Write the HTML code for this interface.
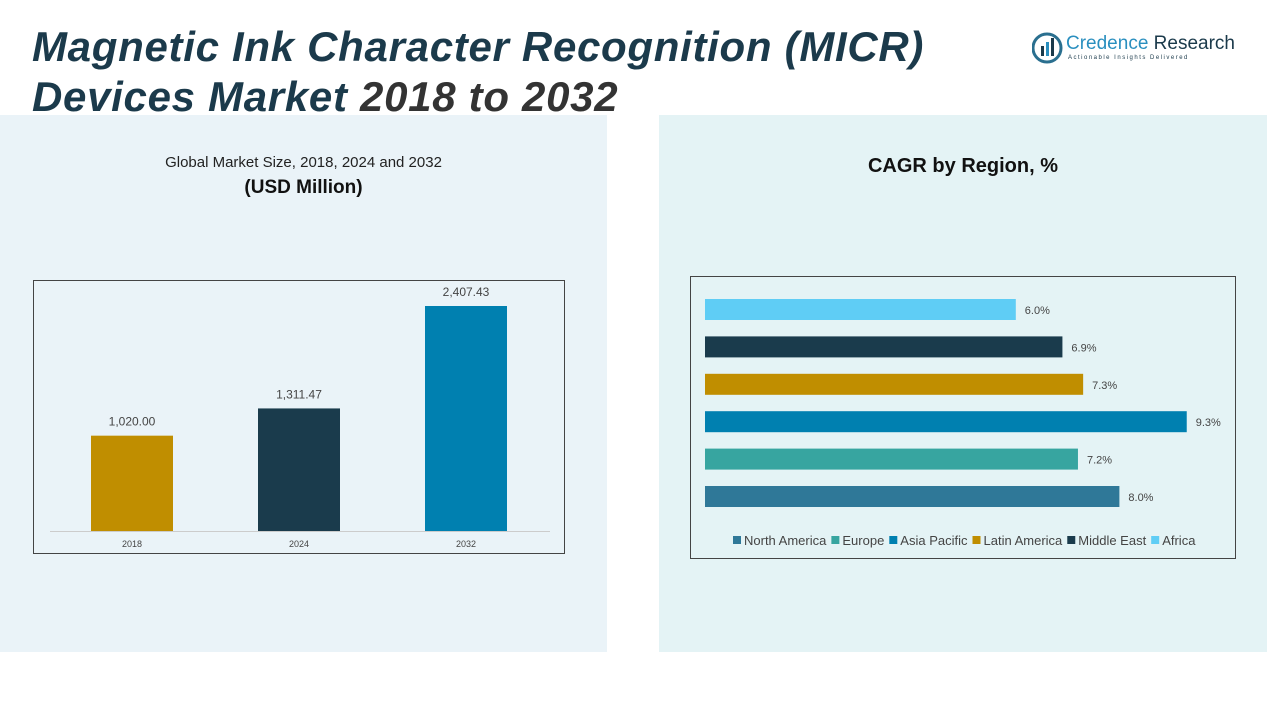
<!DOCTYPE html>
<html><head><meta charset="utf-8"><style>
body{margin:0;width:1267px;height:713px;background:#fff;font-family:"Liberation Sans",sans-serif;position:relative;overflow:hidden}
.abs{position:absolute}
</style></head><body>
<div class="abs" style="left:0;top:115px;width:607px;height:537px;background:#eaf3f8"></div>
<div class="abs" style="left:659px;top:115px;width:608px;height:537px;background:#e4f3f5"></div>
<div class="abs" style="left:32px;top:22px;font-size:42px;font-weight:bold;font-style:italic;color:#1b3a4b;line-height:50px;letter-spacing:0.7px">Magnetic Ink Character Recognition (MICR)<br>Devices Market <span style="color:#333">2018 to 2032</span></div>
<div class="abs" style="left:1032px;top:32px;width:210px;height:34px">
<svg width="32" height="32" style="position:absolute;left:0;top:0"><circle cx="15" cy="16" r="14" fill="none" stroke="#2a6f8f" stroke-width="3"/><rect x="9" y="14" width="3" height="10" fill="#1b3a4b"/><rect x="14" y="10" width="3" height="14" fill="#2a8fbf"/><rect x="19" y="6" width="3" height="18" fill="#1b3a4b"/></svg>
<div class="abs" style="left:34px;top:1px;font-size:19px;color:#2a8fbf;white-space:nowrap">Credence <span style="color:#1b3a4b">Research</span></div>
<div class="abs" style="left:36px;top:23px;font-size:6px;color:#1b3a4b;letter-spacing:1.5px;white-space:nowrap">Actionable Insights Delivered</div>
</div>
<div class="abs" style="left:0;width:607px;top:154px;text-align:center;font-size:15px;color:#222">Global Market Size, 2018, 2024 and 2032</div>
<div class="abs" style="left:0;width:607px;top:177px;text-align:center;font-size:19px;font-weight:bold;color:#111">(USD Million)</div>
<div class="abs" style="left:659px;width:608px;top:155px;text-align:center;font-size:20px;font-weight:bold;color:#111">CAGR by Region, %</div>
<svg class="abs" style="left:0;top:0" width="1267" height="713" id="svg"></svg>
<script>
const years=["2018","2024","2032"];
const sizes=[1020.00,1311.47,2407.43];
const sizeLabels=["1,020.00","1,311.47","2,407.43"];
const sizeColors=["#c08e00","#1a3b4c","#0080b0"];
const regions=["Africa","Middle East","Latin America","Asia Pacific","Europe","North America"];
const cagr=[6.0,6.9,7.3,9.3,7.2,8.0];
const regionColors=["#5fcdf5","#1a3b4c","#c08e00","#0080b0","#37a5a0","#2f7898"];
const legendOrder=["North America","Europe","Asia Pacific","Latin America","Middle East","Africa"];
const legendColors=["#2f7898","#37a5a0","#0080b0","#c08e00","#1a3b4c","#5fcdf5"];
const svg=document.getElementById('svg');const NS="http://www.w3.org/2000/svg";
function mk(t,a,p){const e=document.createElementNS(NS,t);for(const k in a)e.setAttribute(k,a[k]);(p||svg).appendChild(e);return e;}
let f=mk('rect',{x:33.5,y:280.5,width:531,height:273,fill:'none',stroke:'#444'});


let bl=mk('line',{x1:50,x2:550,y1:531.5,y2:531.5,stroke:'#ccc'});


const yS=v=>531-v*225/2407.43;const xC=i=>132+i*167;
years.forEach((y,i)=>{
 const r=mk('rect',{x:xC(i)-41,y:yS(sizes[i]),width:82,height:531-yS(sizes[i]),fill:sizeColors[i]});
 
 
 const t=mk('text',{x:xC(i),y:yS(sizes[i])-10,'text-anchor':'middle','font-size':12,fill:'#444'});t.textContent=sizeLabels[i];
 
 
 const x=mk('text',{x:xC(i),y:547,'text-anchor':'middle','font-size':9,fill:'#444'});x.textContent=y;
 
 
});
let f2=mk('rect',{x:690.5,y:276.5,width:545,height:282,fill:'none',stroke:'#444'});


const xR=v=>705+v*51.8;const yR=i=>299+i*37.4;
regions.forEach((r,i)=>{
 const b=mk('rect',{x:705,y:yR(i),width:xR(cagr[i])-705,height:21,fill:regionColors[i]});
 
 
 const t=mk('text',{x:xR(cagr[i])+9,y:yR(i)+15,'font-size':11,fill:'#444'});t.textContent=cagr[i].toFixed(1)+'%';
 
 
});
let lx=733;
legendOrder.forEach((n,i)=>{
 const s=mk('rect',{x:lx,y:536,width:8,height:8,fill:legendColors[i]});
 
 
 const t=mk('text',{x:lx+11,y:545,'font-size':13,fill:'#444'});t.textContent=n;
 
 
 lx+=11+t.getComputedTextLength()+5;
});
</script>
</body></html>
